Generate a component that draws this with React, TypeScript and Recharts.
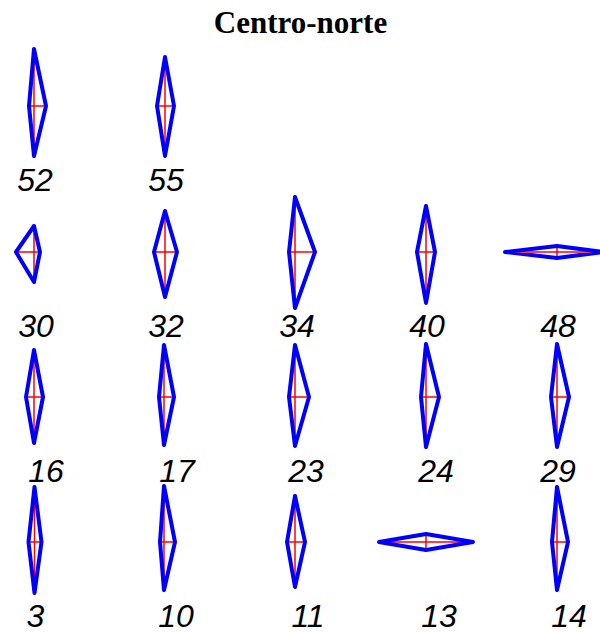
import React from "react";
import { ScatterChart, Scatter, XAxis, YAxis } from "recharts";

// station numbers, read row by row
const stationNames = ["52", "55", "30", "32", "34", "40", "48", "16", "17", "23", "24", "29", "3", "10", "11", "13", "14"];
// glyph centres in plot units (10 units per grid step of ~1.3)
const stationX = [3.4, 16.5, 3.4, 16.5, 29.5, 42.6, 55.7, 3.4, 16.4, 29.5, 42.6, 55.7, 3.45, 16.4, 29.5, 42.6, 55.7];
const stationY = [52.6, 52.6, 38.0, 38.0, 38.0, 38.0, 38.0, 23.5, 23.5, 23.5, 23.5, 23.5, 9.0, 9.0, 9.0, 9.0, 9.0];
// semi-axes of each glyph: up, down, left, right
const armUp = [5.7, 4.9, 2.6, 4.1, 5.5, 4.6, 0.6, 4.7, 5.2, 5.2, 5.3, 5.3, 5.5, 5.6, 4.6, 0.8, 5.5];
const armDown = [5.0, 5.0, 3.0, 4.5, 5.6, 5.1, 0.6, 4.6, 4.8, 4.9, 5.0, 5.0, 5.1, 4.8, 4.5, 0.8, 4.8];
const armLeft = [0.5, 0.8, 1.8, 1.1, 0.6, 0.9, 5.2, 0.8, 0.5, 0.6, 0.5, 0.6, 0.6, 0.4, 0.8, 4.7, 0.5];
const armRight = [1.2, 0.9, 0.6, 1.2, 2.0, 0.9, 4.6, 0.9, 1.0, 1.4, 1.3, 1.2, 0.7, 1.1, 1.0, 4.7, 1.1];
// sideways shift of each number under its glyph
const labelNudge = [0.1, 0.1, 0.2, 0.1, 0.2, 0.1, 0.1, 1.2, 1.3, 1.1, 1.0, 0.1, 0.1, 1.2, 1.3, 1.3, 1.2];

const kites = stationNames.map((name, i) => {
  const x = stationX[i];
  const y = stationY[i];
  const top = { x, y: y + armUp[i] };
  const bottom = { x, y: y - armDown[i] };
  const left = { x: x - armLeft[i], y };
  const right = { x: x + armRight[i], y };
  return {
    name,
    outline: [top, right, bottom, left, top],
    vertical: [top, bottom],
    horizontal: [left, right],
  };
});

const labels = stationNames.map((name, i) => ({
  name,
  x: stationX[i] + labelNudge[i],
  y: stationY[i] - 8.5,
}));

const noMarker = () => <g />;

const NumberLabel = (props: any) => {
  const { cx, cy, payload } = props;
  return (
    <text
      x={cx}
      y={cy}
      textAnchor="middle"
      fontFamily="'Liberation Sans', Arial, sans-serif"
      fontStyle="italic"
      fontSize={32}
      fill="#000"
    >
      {payload.name}
    </text>
  );
};

export default function App() {
  return (
    <div
      style={{
        position: "absolute",
        left: 0,
        top: 0,
        width: 600,
        height: 632,
        background: "#fff",
      }}
    >
      <div
        style={{
          position: "absolute",
          top: 8,
          left: 0,
          width: 601,
          textAlign: "center",
          fontFamily: "'Liberation Serif', 'Times New Roman', serif",
          fontWeight: "bold",
          fontSize: 31,
          lineHeight: "30px",
        }}
      >
        Centro-norte
      </div>
      <ScatterChart
        width={600}
        height={632}
        margin={{ top: 0, right: 0, bottom: 0, left: 0 }}
      >
        <XAxis type="number" dataKey="x" domain={[0, 60]} allowDataOverflow hide />
        <YAxis type="number" dataKey="y" domain={[0, 63.2]} allowDataOverflow hide />
        {kites.map((k) => (
          <Scatter
            key={"v" + k.name}
            data={k.vertical}
            line={{ stroke: "#ff0000", strokeWidth: 1.5, fill: "none" }}
            lineJointType="linear"
            shape={noMarker}
            fill="none"
            isAnimationActive={false}
          />
        ))}
        {kites.map((k) => (
          <Scatter
            key={"h" + k.name}
            data={k.horizontal}
            line={{ stroke: "#ff0000", strokeWidth: 1.5, fill: "none" }}
            lineJointType="linear"
            shape={noMarker}
            fill="none"
            isAnimationActive={false}
          />
        ))}
        {kites.map((k) => (
          <Scatter
            key={"k" + k.name}
            data={k.outline}
            line={{
              stroke: "#0000ff",
              strokeWidth: 4,
              fill: "none",
              strokeLinejoin: "round",
              strokeLinecap: "round",
            }}
            lineJointType="linear"
            shape={noMarker}
            fill="none"
            isAnimationActive={false}
          />
        ))}
        <Scatter
          data={labels}
          shape={NumberLabel}
          isAnimationActive={false}
        />
      </ScatterChart>
    </div>
  );
}
